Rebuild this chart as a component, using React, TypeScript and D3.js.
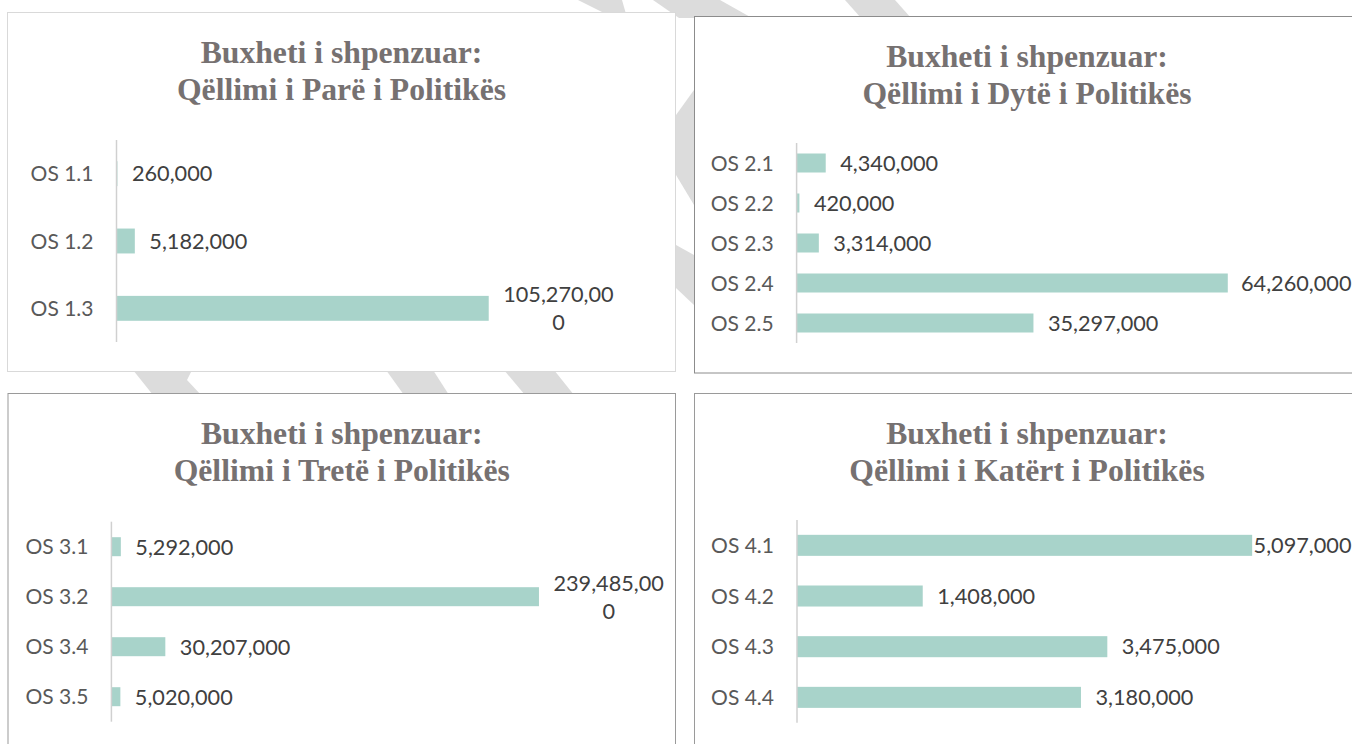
import React, { useEffect, useRef } from "react";
import * as d3 from "d3";

// ---------- DATA ----------
const titleLine1 = "Buxheti i shpenzuar:";
const panelTitles = [
  "Qëllimi i Parë i Politikës",
  "Qëllimi i Dytë i Politikës",
  "Qëllimi i Tretë i Politikës",
  "Qëllimi i Katërt i Politikës",
];

const goal1Categories = ["OS 1.1", "OS 1.2", "OS 1.3"];
const goal1Values = [260000, 5182000, 105270000];

const goal2Categories = ["OS 2.1", "OS 2.2", "OS 2.3", "OS 2.4", "OS 2.5"];
const goal2Values = [4340000, 420000, 3314000, 64260000, 35297000];

const goal3Categories = ["OS 3.1", "OS 3.2", "OS 3.4", "OS 3.5"];
const goal3Values = [5292000, 239485000, 30207000, 5020000];

const goal4Categories = ["OS 4.1", "OS 4.2", "OS 4.3", "OS 4.4"];
const goal4Values = [5097000, 1408000, 3475000, 3180000];

// ---------- LAYOUT (not data) ----------
const W = 1352;
const H = 744;
const BAR = "#a8d3ca";
const TITLE_COLOR = "#767171";

const panels = [
  { cats: goal1Categories, vals: goal1Values, title: panelTitles[0],
    box: [7.5, 12.5, 668, 359], border: "#d9d9d9",
    axisX: 116.5, xMax: 120e6, xEnd: 540.8, yTop: 140, yBot: 342, pad: 0.63 },
  { cats: goal2Categories, vals: goal2Values, title: panelTitles[1],
    box: [694.5, 16.5, 665, 356.5], border: "#8c8c8c",
    axisX: 796.6, xMax: 70e6, xEnd: 1266.3, yTop: 143, yBot: 343, pad: 0.525 },
  { cats: goal3Categories, vals: goal3Values, title: panelTitles[2],
    box: [8, 393.5, 667.5, 360], border: "#9a9a9a",
    axisX: 111.4, xMax: 300e6, xEnd: 647, yTop: 521.7, yBot: 721.7, pad: 0.62 },
  { cats: goal4Categories, vals: goal4Values, title: panelTitles[3],
    box: [694.5, 393.5, 665, 360], border: "#9a9a9a",
    axisX: 797, xMax: 6e6, xEnd: 1332.8, yTop: 520, yBot: 722.7, pad: 0.585 },
];

// decorative background watermark fragments
const watermarkShapes: [number, number][][] = [
  [[578, 0], [622, 0], [626, 14], [606, 14]],
  [[653, 0], [720, 0], [752, 18], [679, 18]],
  [[845, 0], [895, 0], [911, 18], [861, 18]],
  [[694, 90], [676, 115], [676, 175], [694, 205]],
  [[676, 245], [694, 255], [694, 305], [676, 288]],
  [[133, 370], [192, 370], [187, 380], [201, 395], [153, 395]],
  [[386, 370], [433, 370], [449, 395], [404, 395]],
  [[504, 370], [554, 370], [574, 395], [525, 395]],
];

const fmt = d3.format(",");

export default function App() {
  const ref = useRef<SVGSVGElement | null>(null);

  useEffect(() => {
    const svg = d3.select(ref.current);
    svg.selectAll("*").remove();

    svg.append("rect").attr("width", W).attr("height", H).attr("fill", "#fff");

    svg.selectAll("polygon.wm")
      .data(watermarkShapes)
      .enter()
      .append("polygon")
      .attr("class", "wm")
      .attr("points", (d) => d.map((p) => p.join(",")).join(" "))
      .attr("fill", "#dcdcdc");

    panels.forEach((p) => {
      const g = svg.append("g");
      const [bx, by, bw, bh] = p.box;
      g.append("rect")
        .attr("x", bx).attr("y", by).attr("width", bw).attr("height", bh)
        .attr("fill", "#fff").attr("stroke", p.border).attr("stroke-width", 1);

      const cx = bx + bw / 2;
      const title = g.append("text")
        .attr("text-anchor", "middle")
        .attr("font-family", "'Liberation Serif', 'Times New Roman', serif")
        .attr("font-weight", "bold")
        .attr("font-size", 31.7)
        .attr("fill", TITLE_COLOR);
      title.append("tspan").attr("x", cx).attr("y", by + 50.5).text(titleLine1);
      title.append("tspan").attr("x", cx).attr("y", by + 87.5).text(p.title);

      const x = d3.scaleLinear().domain([0, p.xMax]).range([p.axisX, p.xEnd]);
      const y = d3.scaleBand<string>()
        .domain(p.cats)
        .range([p.yTop, p.yBot])
        .paddingInner(p.pad)
        .paddingOuter(p.pad / 2);

      const data = p.cats.map((c, i) => ({ c, v: p.vals[i] }));

      g.selectAll("rect.bar")
        .data(data)
        .enter()
        .append("rect")
        .attr("class", "bar")
        .attr("x", x(0))
        .attr("y", (d) => y(d.c)!)
        .attr("width", (d) => x(d.v) - x(0))
        .attr("height", y.bandwidth())
        .attr("fill", BAR);

      g.append("line")
        .attr("x1", x(0)).attr("x2", x(0))
        .attr("y1", p.yTop).attr("y2", p.yBot)
        .attr("stroke", "#d0d0d0").attr("stroke-width", 1.5);

      g.selectAll("text.cat")
        .data(data)
        .enter()
        .append("text")
        .attr("class", "cat")
        .attr("x", x(0) - 23)
        .attr("y", (d) => y(d.c)! + y.bandwidth() / 2)
        .attr("dy", "0.36em")
        .attr("text-anchor", "end")
        .attr("font-family", "Lato, 'Noto Sans', sans-serif")
        .attr("font-size", 21)
        .attr("fill", "#595959")
        .text((d) => d.c);

      const limit = bx + bw - 8;
      data.forEach((d) => {
        const label = fmt(d.v);
        const lines: string[] = [];
        for (let i = 0; i < label.length; i += 10) lines.push(label.slice(i, i + 10));
        const cy = y(d.c)! + y.bandwidth() / 2;
        const t = g.append("text")
          .attr("font-family", "Lato, 'Noto Sans', sans-serif")
          .attr("font-size", 21.7)
          .attr("fill", "#404040")
          .attr("text-anchor", "middle");
        const lineH = 28;
        const spans = lines.map((ln, i) =>
          t.append("tspan")
            .attr("y", cy + (i - (lines.length - 1) / 2) * lineH)
            .attr("dy", "0.36em")
            .text(ln)
        );
        const widths = spans.map((s) => (s.node() as SVGTSpanElement).getComputedTextLength());
        const bw2 = Math.max(...widths);
        let x0 = x(d.v) + 14.5;
        if (x0 + bw2 > limit) x0 = limit - bw2;
        spans.forEach((s) => s.attr("x", x0 + bw2 / 2));
      });
    });
  }, []);

  return (
    <svg
      ref={ref}
      width={W}
      height={H}
      style={{ position: "absolute", left: 0, top: 0, display: "block" }}
    />
  );
}
